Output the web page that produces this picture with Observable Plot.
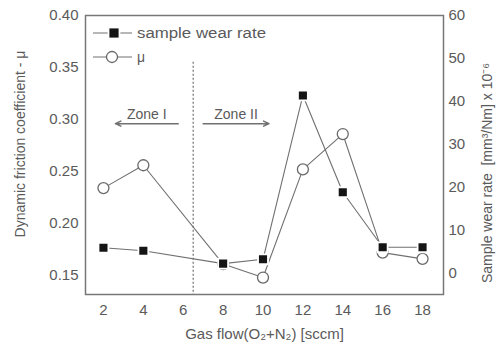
<!DOCTYPE html>
<html>
<head>
<meta charset="utf-8">
<script src="https://cdn.jsdelivr.net/npm/d3@7"></script>
<script src="https://cdn.jsdelivr.net/npm/@observablehq/plot@0.6"></script>
<style>
  body { margin: 0; background: #fff; }
  #chart { width: 498px; height: 352px; }
  svg { font-family: "Liberation Sans", Arial, sans-serif; }
</style>
</head>
<body>
<div id="chart"></div>
<script>
// ---- data ----
const gasFlow = [2, 4, 8, 10, 12, 14, 16, 18];
const mu = [0.234, 0.256, 0.161, 0.148, 0.252, 0.286, 0.172, 0.166];
const wearRate = [6.0, 5.3, 2.3, 3.3, 41.4, 18.9, 6.1, 6.1];
const xTicks = [2, 4, 6, 8, 10, 12, 14, 16, 18];
const muTicks = [0.15, 0.20, 0.25, 0.30, 0.35, 0.40];
const wearTicks = [0, 10, 20, 30, 40, 50, 60];
const zoneBoundary = [6.5];
const zones = [
  {label: "Zone I", from: 5.75, to: 2.6, y: 0.296},
  {label: "Zone II", from: 7.0, to: 10.3, y: 0.296}
];

// map wear rate (right axis) onto the left (μ) scale
const wearToMu = w => 0.1519 + w * 0.2481 / 60;

const muData = gasFlow.map((g, i) => ({g, v: mu[i]}));
const wearData = gasFlow.map((g, i) => ({g, v: wearToMu(wearRate[i])}));

const grey = "#5a5a5a";
const lineGrey = "#707070";

const chart = Plot.plot({
  width: 498,
  height: 352,
  marginLeft: 85,
  marginRight: 55,
  marginTop: 15,
  marginBottom: 58,
  style: {fontFamily: "Liberation Sans, Arial, sans-serif", color: grey, fontSize: "15px", background: "#fff"},
  x: {domain: [1.1, 19.05]},
  y: {domain: [0.1317, 0.40]},
  marks: [
    Plot.axisX(xTicks, {tickSize: 0, tickPadding: 10, fontSize: 15, label: null, fill: grey}),
    Plot.axisY(muTicks, {tickSize: 0, tickPadding: 7, fontSize: 15, label: null, fill: grey, tickFormat: d => d.toFixed(2)}),
    Plot.axisY(wearTicks.map(wearToMu), {anchor: "right", tickSize: 0, tickPadding: 5, fontSize: 15, label: null, fill: grey, tickFormat: (d, i) => String(wearTicks[i])}),
    // zone boundary
    Plot.ruleX(zoneBoundary, {y1: 0.355, y2: 0.1317, stroke: lineGrey, strokeWidth: 1.2, strokeDasharray: "2,2"}),
    // zone arrows and labels
    Plot.arrow(zones, {x1: "from", x2: "to", y1: "y", y2: "y", stroke: lineGrey, strokeWidth: 1.5, headLength: 6, headAngle: 50}),
    Plot.text(zones, {x: d => (d.from + d.to) / 2, y: "y", text: "label", dy: -9, fill: grey, fontSize: 14, ariaLabel: "zone-label"}),
    // μ series
    Plot.line(muData, {x: "g", y: "v", stroke: lineGrey, strokeWidth: 1.1}),
    Plot.dot(muData, {x: "g", y: "v", r: 5.5, fill: "#fff", stroke: "#6a6a6a", strokeWidth: 1.3}),
    // wear rate series
    Plot.line(wearData, {x: "g", y: "v", stroke: lineGrey, strokeWidth: 1.1}),
    Plot.dot(wearData, {x: "g", y: "v", symbol: "square", r: 5.6, fill: "#151515", stroke: "#fff", strokeWidth: 1.8}),
    // axis titles
    Plot.text(["Gas flow(O₂+N₂) [sccm]"], {frameAnchor: "bottom", dy: 44, fill: grey, fontSize: 15, ariaLabel: "xlabel"}),
    Plot.text(["Dynamic friction coefficient - μ"], {frameAnchor: "left", textAnchor: "middle", rotate: -90, dx: -65, dy: -11, fill: grey, fontSize: 14, ariaLabel: "ylabel-left"}),
    Plot.text(["Sample wear rate  [mm³/Nm] x 10⁻⁶"], {frameAnchor: "right", textAnchor: "middle", rotate: -90, dx: 44, dy: 18, fill: grey, fontSize: 14, ariaLabel: "ylabel-right"}),
    Plot.frame({stroke: "#777", strokeWidth: 1.5})
  ]
});

// stretch titles to match the reference widths
const svg = d3.select(chart);
svg.select('g[aria-label="xlabel"] text').attr("textLength", 182).attr("lengthAdjust", "spacingAndGlyphs");
svg.select('g[aria-label="ylabel-left"] text').attr("textLength", 190).attr("lengthAdjust", "spacingAndGlyphs");
svg.select('g[aria-label="ylabel-right"] text').attr("textLength", 298).attr("lengthAdjust", "spacingAndGlyphs");
svg.selectAll('g[aria-label="zone-label"] text').each(function(d, i) {
  d3.select(this).attr("textLength", i === 0 ? 49 : 54).attr("lengthAdjust", "spacingAndGlyphs");
});

// legend
const legend = svg.append("g").attr("font-size", 14).attr("fill", grey).attr("text-anchor", "start");
const rows = [
  {label: "sample wear rate", y: 33, square: true},
  {label: "μ", y: 57, square: false}
];
rows.forEach(r => {
  legend.append("line").attr("x1", 93).attr("x2", 132).attr("y1", r.y).attr("y2", r.y)
    .attr("stroke", lineGrey).attr("stroke-width", 1.1);
  if (r.square) {
    legend.append("rect").attr("x", 108.5).attr("y", r.y - 5.5).attr("width", 11).attr("height", 11)
      .attr("fill", "#151515").attr("stroke", "#fff").attr("stroke-width", 1.8);
  } else {
    legend.append("circle").attr("cx", 112).attr("cy", r.y).attr("r", 5.5)
      .attr("fill", "#fff").attr("stroke", "#6a6a6a").attr("stroke-width", 1.3);
  }
  const t = legend.append("text").attr("x", 137).attr("y", r.y).attr("dy", "0.35em").attr("text-anchor", "start").text(r.label);
  if (r.square) t.attr("textLength", 129).attr("lengthAdjust", "spacingAndGlyphs");
});

document.getElementById("chart").appendChild(chart);
</script>
</body>
</html>
